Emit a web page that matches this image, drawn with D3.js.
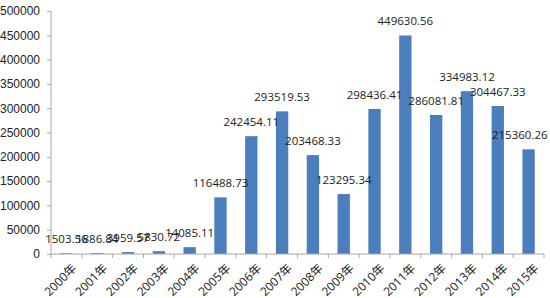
<!DOCTYPE html>
<html>
<head>
<meta charset="utf-8">
<script src="https://cdn.jsdelivr.net/npm/d3@7"></script>
<style>
  body { margin: 0; background: #fff; }
  svg { display: block; font-family: "Open Sans", "Noto Sans CJK SC", sans-serif; }
  .axis path, .axis line { stroke: #a6a6a6; }
</style>
</head>
<body>
<script>
// data
const years = ['2000年', '2001年', '2002年', '2003年', '2004年', '2005年', '2006年', '2007年',
  '2008年', '2009年', '2010年', '2011年', '2012年', '2013年', '2014年', '2015年'];
const values = [1503.56, 1886.84, 3959.57, 5830.72, 14085.11, 116488.73, 242454.11, 293519.53,
  203468.33, 123295.34, 298436.41, 449630.56, 286081.81, 334983.12, 304467.33, 215360.26];
const yTicks = [0, 50000, 100000, 150000, 200000, 250000, 300000, 350000, 400000, 450000, 500000];

const width = 550;
const height = 298;
const margin = {top: 11, right: 6, bottom: 44, left: 51};

const svg = d3.select('body').append('svg')
  .attr('width', width)
  .attr('height', height);

const x = d3.scaleBand()
  .domain(years)
  .range([margin.left, width - margin.right])
  .paddingInner(0.6)
  .paddingOuter(0.3);

const y = d3.scaleLinear()
  .domain([0, 500000])
  .range([height - margin.bottom, margin.top]);

// y axis
const yAxis = svg.append('g')
  .attr('class', 'axis')
  .attr('transform', `translate(${margin.left},0)`)
  .call(d3.axisLeft(y).tickValues(yTicks).tickSize(4).tickPadding(7).tickFormat(d3.format('d')));
yAxis.selectAll('text').attr('font-size', 12).attr('fill', '#222');
yAxis.select('.domain').attr('d', `M0,${y(500000)}V${y(0)}`);

// bars
svg.append('g')
  .selectAll('rect')
  .data(values)
  .enter()
  .append('rect')
  .attr('x', (d, i) => x(years[i]))
  .attr('y', (d) => y(d))
  .attr('width', x.bandwidth())
  .attr('height', (d) => y(0) - y(d))
  .attr('fill', '#4a7ebd');

// x axis with ticks between categories
const step = x.step();
const xAxis = svg.append('g')
  .attr('class', 'axis')
  .attr('transform', `translate(0,${y(0)})`);
xAxis.append('path')
  .attr('d', `M${margin.left},0H${width - margin.right}`)
  .attr('stroke', '#a6a6a6');
xAxis.selectAll('line')
  .data(d3.range(years.length + 1))
  .enter()
  .append('line')
  .attr('x1', (i) => margin.left + i * step)
  .attr('x2', (i) => margin.left + i * step)
  .attr('y1', 0)
  .attr('y2', 4)
  .attr('stroke', '#a6a6a6');
xAxis.selectAll('text')
  .data(years)
  .enter()
  .append('text')
  .attr('transform', (d) => `translate(${x(d) + x.bandwidth() / 2 + 5},${9}) rotate(-45)`)
  .attr('text-anchor', 'end')
  .attr('dy', '0.7em')
  .attr('font-size', 12)
  .attr('fill', '#222')
  .text((d) => d);

// value labels
svg.append('g')
  .selectAll('text')
  .data(values)
  .enter()
  .append('text')
  .attr('x', (d, i) => x(years[i]) + x.bandwidth() / 2)
  .attr('y', (d) => y(d) - 10)
  .attr('text-anchor', 'middle')
  .attr('font-size', 11.5)
  .attr('fill', '#222')
  .text((d) => d3.format('.2f')(d))
  .each(function () {
    // keep the last label inside the picture
    const b = this.getBBox();
    const over = b.x + b.width - (width - 2);
    if (over > 0) d3.select(this).attr('x', +d3.select(this).attr('x') - over);
  });
</script>
</body>
</html>
